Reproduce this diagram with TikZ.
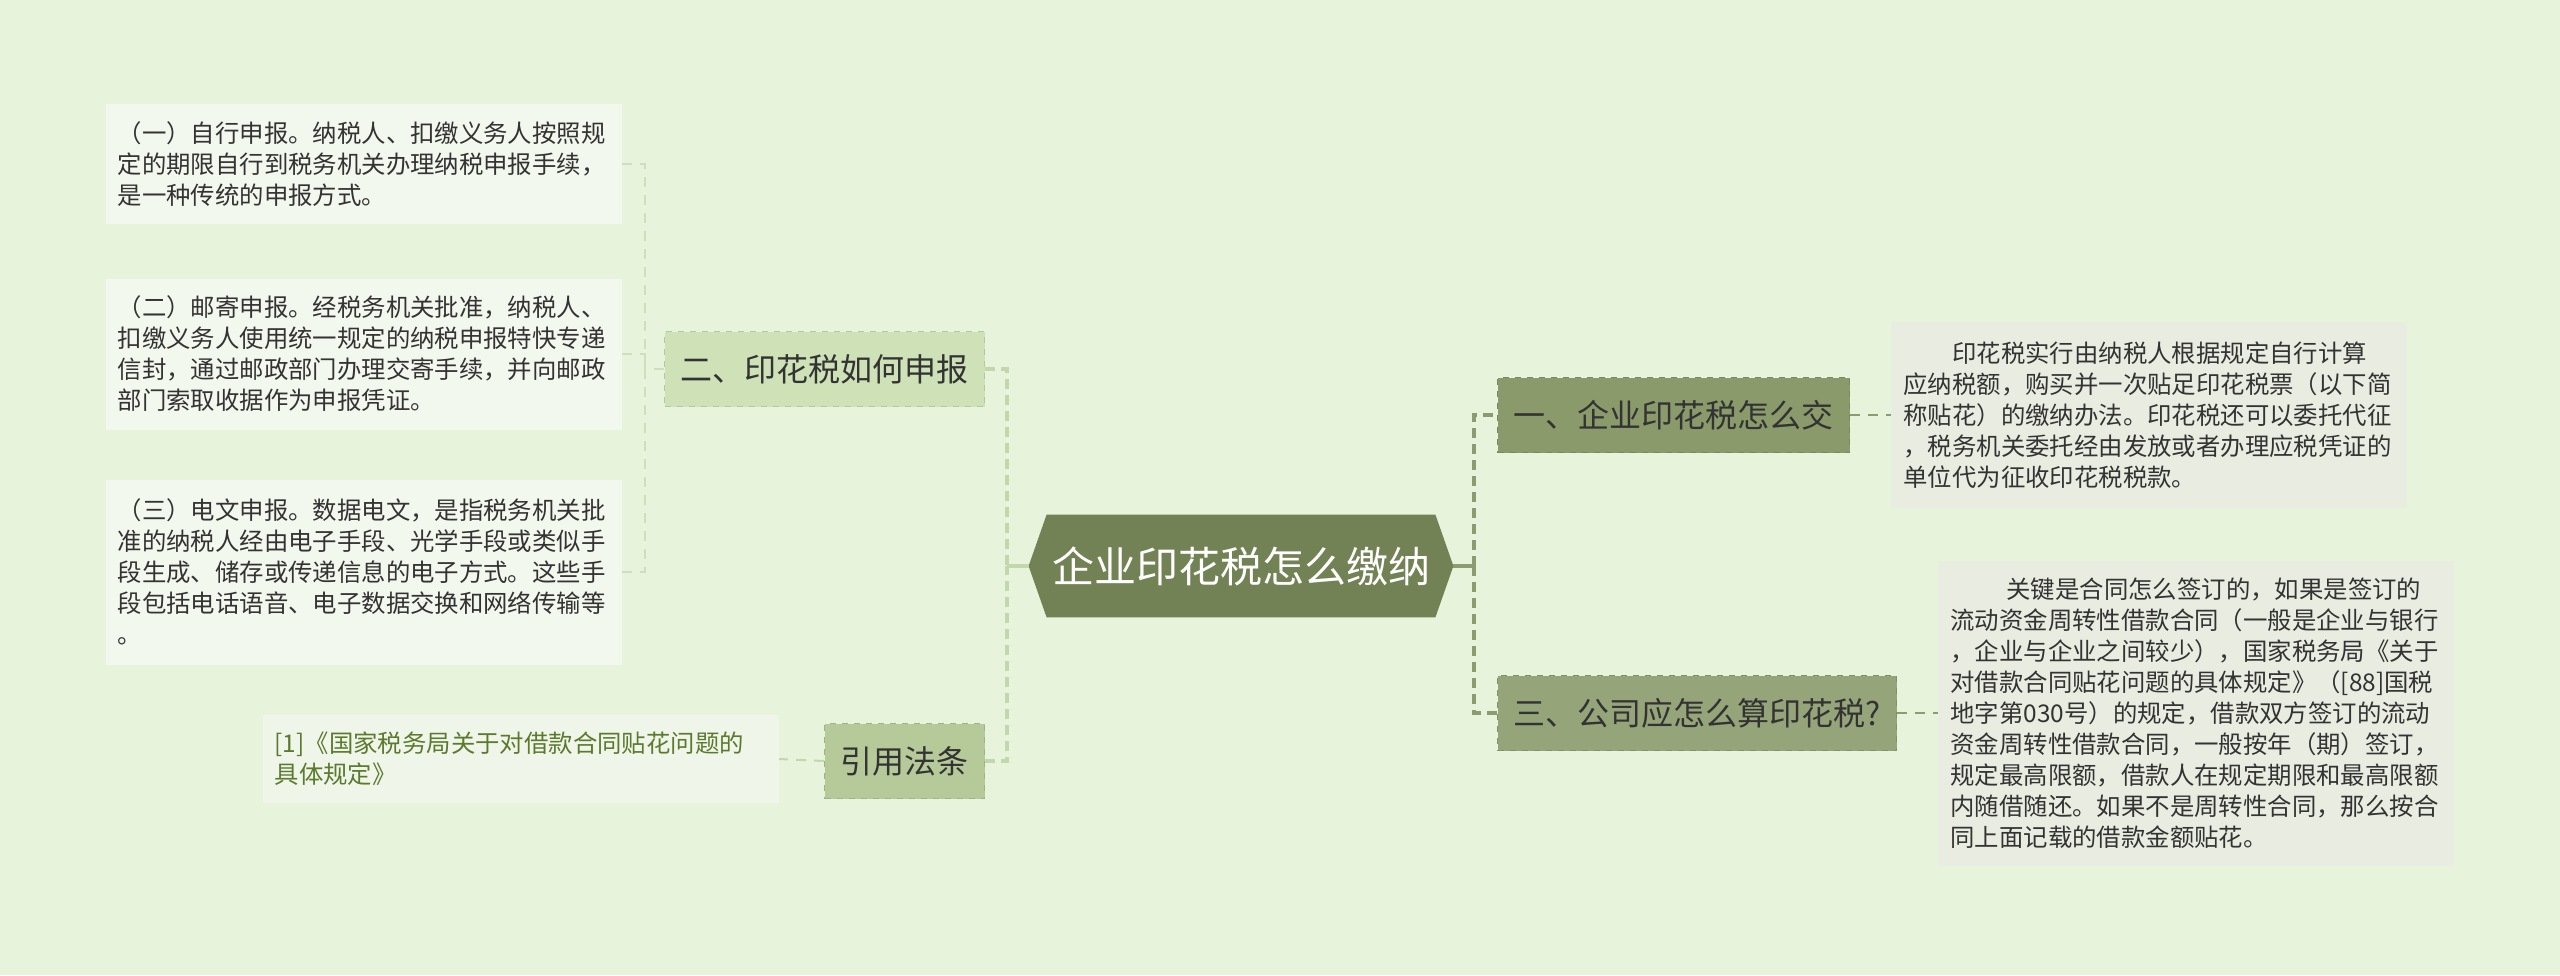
\documentclass[tikz,border=0pt]{standalone}
\usepackage{fontspec}
\newfontfamily\cjk{Noto Sans CJK SC}
\usetikzlibrary{backgrounds}
\definecolor{bgcol}{HTML}{E7F4DB}
\definecolor{rootcol}{HTML}{738254}
\definecolor{onecol}{HTML}{8A9A6B}
\definecolor{threecol}{HTML}{95A579}
\definecolor{twocol}{HTML}{CFE1B7}
\definecolor{citecol}{HTML}{B6CA99}
\definecolor{leafl}{HTML}{F3F8EE}
\definecolor{leafr}{HTML}{E9EDE1}
\definecolor{leafc}{HTML}{F0F5EA}
\definecolor{reftext}{HTML}{5C7A2E}
\definecolor{linelight}{HTML}{C3D7AC}
\definecolor{linedark}{HTML}{8C9C6E}
\definecolor{inkcol}{HTML}{333333}
\begin{document}
\begin{tikzpicture}[x=0.5pt,y=-0.5pt,
  topic/.style={font=\cjk\fontsize{16}{19}\selectfont, text=inkcol, inner xsep=8pt,
    minimum height=37.5pt, fill=#1, draw=#1!88!black, dashed, line width=0.5pt},
  leaf/.style={font=\cjk\fontsize{12.2}{15.5}\selectfont, text=inkcol, text width=246pt,
    align=left, inner xsep=6pt, inner ysep=0pt, fill=#1},
  stem/.style={draw=#1, line width=1.8pt},
  trunk/.style={draw=#1, line width=1.6pt, dash pattern=on 5pt off 3pt},
  twig/.style={draw=linelight!80, line width=0.8pt, dash pattern=on 5pt off 4pt},
  leafline/.style={draw=#1, line width=1pt, dash pattern=on 5pt off 4pt}]

\node[font=\cjk\fontsize{21}{24}\selectfont, text=white, minimum width=212pt,
  minimum height=51pt, inner sep=0pt] (root) at (1241,566) {企业印花税怎么缴纳};

\node[topic=twocol, anchor=east] (n2) at (985,369) {二、印花税如何申报};
\node[topic=citecol, anchor=east] (cite) at (985,761) {引用法条};
\node[topic=onecol, anchor=west] (n1) at (1497,415) {一、企业印花税怎么交};
\node[topic=threecol, anchor=west] (n3) at (1497,713) {三、公司应怎么算印花税?};

\node[leaf=leafl, anchor=east, minimum height=60pt] (l1) at (622,164)
  {（一）自行申报。纳税人、扣缴义务人按照规\\定的期限自行到税务机关办理纳税申报手续，\\是一种传统的申报方式。};
\node[leaf=leafl, anchor=east, minimum height=75.5pt] (l2) at (622,354)
  {（二）邮寄申报。经税务机关批准，纳税人、\\扣缴义务人使用统一规定的纳税申报特快专递\\信封，通过邮政部门办理交寄手续，并向邮政\\部门索取收据作为申报凭证。};
\node[leaf=leafl, anchor=east, minimum height=92.5pt] (l3) at (622,572)
  {（三）电文申报。数据电文，是指税务机关批\\准的纳税人经由电子手段、光学手段或类似手\\段生成、储存或传递信息的电子方式。这些手\\段包括电话语音、电子数据交换和网络传输等\\。};
\node[leaf=leafc, text=reftext, anchor=east, minimum height=44pt] (ref) at (779,759)
  {[1]《国家税务局关于对借款合同贴花问题的\\具体规定》};
\node[leaf=leafr, anchor=west, minimum height=93pt] (r1) at (1891,415)
  {\hspace*{2em}印花税实行由纳税人根据规定自行计算\\应纳税额，购买并一次贴足印花税票（以下简\\称贴花）的缴纳办法。印花税还可以委托代征\\，税务机关委托经由发放或者办理应税凭证的\\单位代为征收印花税税款。};
\node[leaf=leafr, anchor=west, minimum height=152.5pt] (r2) at (1938,713)
  {\hspace*{2.3em}关键是合同怎么签订的，如果是签订的\\流动资金周转性借款合同（一般是企业与银行\\，企业与企业之间较少），国家税务局《关于\\对借款合同贴花问题的具体规定》（[88]国税\\地字第030号）的规定，借款双方签订的流动\\资金周转性借款合同，一般按年（期）签订，\\规定最高限额，借款人在规定期限和最高限额\\内随借随还。如果不是周转性合同，那么按合\\同上面记载的借款金额贴花。};

\begin{scope}[on background layer]
\fill[bgcol] (0,0) rectangle (2560,975);
\fill[rootcol] ([xshift=9pt]root.north west) -- ([xshift=-9pt]root.north east) -- (root.east)
  -- ([xshift=-9pt]root.south east) -- ([xshift=9pt]root.south west) -- (root.west) -- cycle;
\end{scope}

\coordinate (lt) at (1007,566);
\coordinate (rt) at (1474,566);
\coordinate (st) at (645,369);

\draw[stem=linelight] (root.west) -- (lt);
\draw[trunk=linelight] (n2.east) -| (lt);
\draw[trunk=linelight] (cite.east) -| (lt);
\draw[stem=linedark] (root.east) -- (rt);
\draw[trunk=linedark] (rt) |- (n1.west);
\draw[trunk=linedark] (rt) |- (n3.west);

\draw[twig] (n2.west) -- (st);
\draw[twig] (l1.east) -| (st);
\draw[twig] (l2.east) -| (st);
\draw[twig] (l3.east) -| (st);

\draw[leafline=linedark] (n1.east) -- (r1.west);
\draw[leafline=linedark] (n3.east) -- (r2.west);
\draw[leafline=linelight] (cite.west) -- (ref.east);
\end{tikzpicture}
\end{document}
